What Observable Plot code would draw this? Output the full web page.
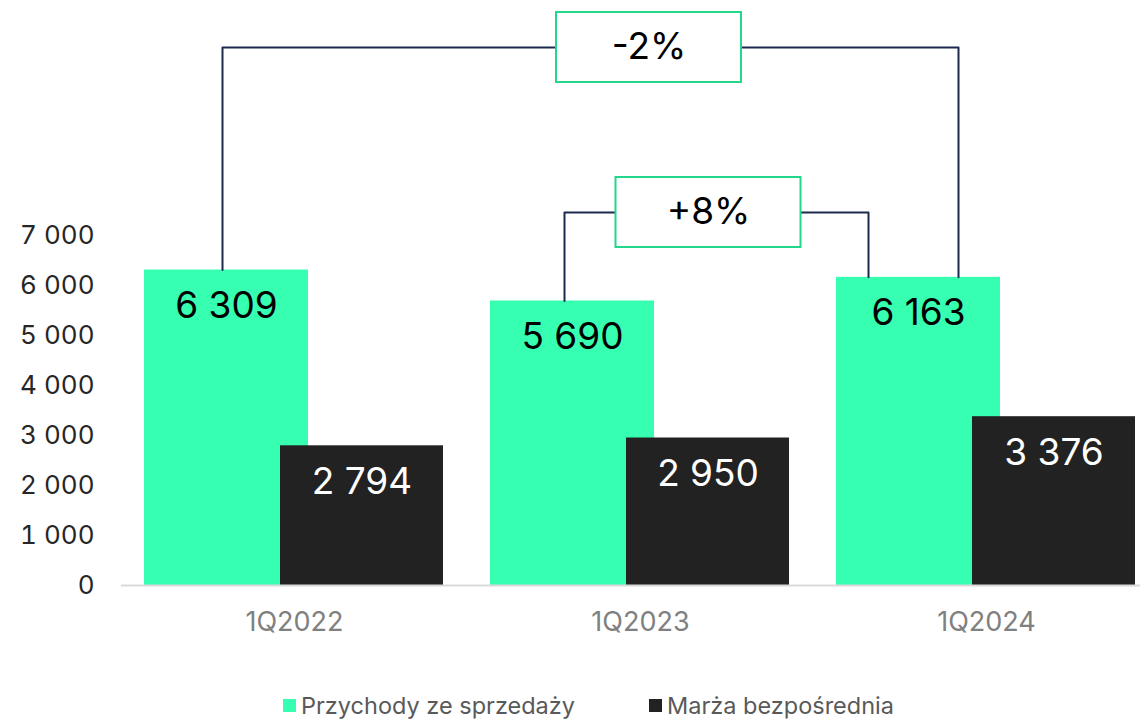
<!DOCTYPE html>
<html>
<head>
<meta charset="utf-8">
<script src="https://cdn.jsdelivr.net/npm/d3@7"></script>
<script src="https://cdn.jsdelivr.net/npm/@observablehq/plot@0.6"></script>
<style>
  html, body { margin: 0; padding: 0; background: #fff; }
  body { width: 1140px; height: 721px; overflow: hidden; font-family: Inter, "Noto Sans", sans-serif; }
  #legend { position: relative; height: 41px; font-size: 23.5px; color: #595959; }
  .item { position: absolute; top: 11px; display: flex; align-items: center; }
  .sw { width: 13px; height: 13px; margin-right: 5px; }
</style>
</head>
<body>
<div id="chart"></div>
<div id="legend"></div>
<script>
// ---- data ----
const quarters = ["1Q2022", "1Q2023", "1Q2024"];
const revenue = [6309, 5690, 6163];       // Przychody ze sprzedaży
const margin = [2794, 2950, 3376];        // Marża bezpośrednia
const seriesNames = ["Przychody ze sprzedaży", "Marża bezpośrednia"];
const yTicks = [0, 1000, 2000, 3000, 4000, 5000, 6000, 7000];
const changeLabels = ["-2%", "+8%"];
const changeFrom = [0, 1];
const changeTo = [2, 2];

// ---- layout / style ----
const colors = ["#36ffb1", "#222222"];
const lineColor = "#1b2a4e";
const boxStroke = "#22d68c";
const W = 1140, H = 680;
const unit = 346;                       // px per group
const px = p => p / unit;               // px -> group units
const barOff = [[px(-150), px(14)], [px(-14), px(149)]];
const bracketLevels = [10760, 7460];
const bracketOffFrom = [px(-72), px(-76)];
const bracketOffTo = [px(-28), px(-118)];
const boxCenterX = [px(648.5 - 294), px(708 - 640) + 1];
const boxHalfW = px(92.5), boxHalfH = 700;

const fmt = d3.formatLocale({thousands: " ", grouping: [3], decimal: ",", currency: ["", ""]}).format(",");

const bars = [];
quarters.forEach((q, i) => {
  bars.push({i, s: 0, v: revenue[i]});
  bars.push({i, s: 1, v: margin[i]});
});

const brackets = changeLabels.map((lab, k) => ({
  lab,
  pts: [
    {x: changeFrom[k] + bracketOffFrom[k], y: revenue[changeFrom[k]]},
    {x: changeFrom[k] + bracketOffFrom[k], y: bracketLevels[k]},
    {x: changeTo[k] + bracketOffTo[k], y: bracketLevels[k]},
    {x: changeTo[k] + bracketOffTo[k], y: revenue[changeTo[k]]}
  ],
  cx: boxCenterX[k],
  cy: bracketLevels[k]
}));
const bracketPts = brackets.flatMap((b, k) => b.pts.map(p => ({...p, k})));

const chart = Plot.plot({
  width: W,
  height: H,
  marginLeft: 121,
  marginRight: 0,
  marginTop: 0,
  marginBottom: H - 585,
  style: {fontFamily: "Inter, 'Noto Sans', sans-serif", background: "#fff", overflow: "visible"},
  x: {domain: [-0.5, 2.5], range: [121, 1159], axis: null},
  y: {domain: [0, 7000], range: [585, 235], axis: null},
  marks: [
    Plot.axisY(yTicks, {anchor: "left", tickSize: 0, tickPadding: 27, tickFormat: fmt, fontSize: 26, fill: "#262626"}),
    Plot.rect(bars, {
      x1: d => d.i + barOff[d.s][0],
      x2: d => d.i + barOff[d.s][1],
      y1: 0,
      y2: d => d.v,
      fill: d => colors[d.s]
    }),
    Plot.ruleY([0], {x1: -0.5, x2: 2.5, stroke: "#d9d9d9", strokeWidth: 2}),
    Plot.text(bars, {
      x: d => d.i + (barOff[d.s][0] + barOff[d.s][1]) / 2,
      y: d => d.v,
      dy: 36,
      text: d => fmt(d.v),
      fill: d => d.s === 0 ? "#000" : "#fff",
      fontSize: 37,
      lineAnchor: "middle"
    }),
    Plot.text(quarters, {
      x: (d, i) => i,
      y: 0,
      dy: 37,
      text: d => d,
      fill: "#808080",
      fontSize: 27,
      lineAnchor: "middle"
    }),
    Plot.line(bracketPts, {x: "x", y: "y", z: "k", stroke: lineColor, strokeWidth: 2, curve: "linear"}),
    Plot.rect(brackets, {
      x1: d => d.cx - boxHalfW,
      x2: d => d.cx + boxHalfW,
      y1: d => d.cy - boxHalfH,
      y2: d => d.cy + boxHalfH,
      fill: "#fff",
      stroke: boxStroke,
      strokeWidth: 2
    }),
    Plot.text(brackets, {
      x: "cx", y: "cy", text: "lab", fontSize: 37, fill: "#000", lineAnchor: "middle"
    })
  ]
});
document.getElementById("chart").appendChild(chart);

const legend = document.getElementById("legend");
const lefts = [283, 649];
seriesNames.forEach((n, i) => {
  const it = document.createElement("div");
  it.className = "item";
  it.style.left = lefts[i] + "px";
  const sw = document.createElement("span");
  sw.className = "sw";
  sw.style.background = colors[i];
  const t = document.createElement("span");
  t.textContent = n;
  it.appendChild(sw);
  it.appendChild(t);
  legend.appendChild(it);
});
</script>
</body>
</html>
